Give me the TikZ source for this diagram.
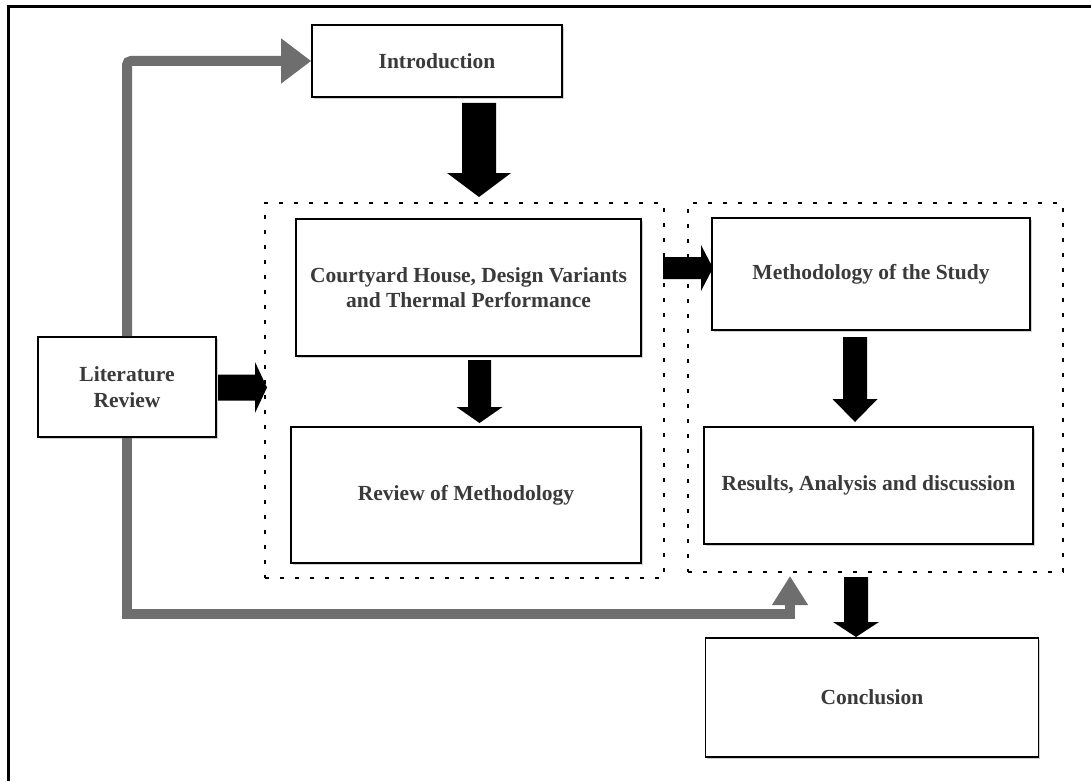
\documentclass[tikz,border=0pt]{standalone}
\usepackage{fontspec}
\setmainfont{Liberation Serif}
\usetikzlibrary{arrows.meta,shadows}
\definecolor{txt}{HTML}{3A3A3A}
\definecolor{garr}{HTML}{6E6E6E}
% block arrow pointing down: centre x, top, head base, tip, shaft half width, head half width
\newcommand\blkdown[6]{\fill (#1-#5,#2) -- (#1+#5,#2) -- (#1+#5,#3) -- (#1+#6,#3) -- (#1,#4) -- (#1-#6,#3) -- (#1-#5,#3) -- cycle;}
% block arrow pointing right: centre y, left, head base, tip, shaft half width, head half width
\newcommand\blkright[6]{\fill (#2,#1-#5) -- (#3,#1-#5) -- (#3,#1-#6) -- (#4,#1) -- (#3,#1+#6) -- (#3,#1+#5) -- (#2,#1+#5) -- cycle;}
\begin{document}
\begin{tikzpicture}[x=1pt,y=-1pt,
  box/.style={draw, line width=1.6pt, fill=white, inner sep=0pt, align=center,
    text=txt, font=\bfseries\fontsize{21.5}{25.5}\selectfont,
    drop shadow={shadow xshift=1.8pt, shadow yshift=-1.8pt, fill=black!30, opacity=0.6}},
  dotbox/.style={draw, line width=2pt, dash pattern=on 4pt off 11pt, inner sep=0pt},
  garrow/.style={draw=garr, line width=10pt},
  blk/.style={fill=black}]
\useasboundingbox (0,0) rectangle (1091,781);
\fill[white] (0,0) rectangle (1091,781);
% outer frame
\draw[line width=3pt] (8,781) -- (8,7) -- (1091,7);
% dotted groups
\node[dotbox, minimum width=399pt, minimum height=375pt] (gleft) at (464.5,390.5) {};
\node[dotbox, minimum width=375pt, minimum height=369pt] (gright) at (875.5,387.5) {};
% boxes
\node[box, minimum width=250pt, minimum height=72pt] (intro) at (437,61) {Introduction};
\node[box, minimum width=345pt, minimum height=137pt] (court) at (468.5,287.5) {Courtyard House, Design Variants\\and Thermal Performance};
\node[box, minimum width=350pt, minimum height=136pt] (review) at (466,495) {Review of Methodology};
\node[box, minimum width=318pt, minimum height=112pt] (method) at (871,274) {Methodology of the Study};
\node[box, minimum width=329pt, minimum height=117pt] (results) at (868.5,485.5) {Results, Analysis and discussion};
\node[box, minimum width=333pt, minimum height=119pt] (concl) at (872,697.5) {Conclusion};
\node[box, minimum width=178pt, minimum height=100pt] (lit) at (127,387) {Literature\\Review};
% gray arrows
\draw[garrow, rounded corners=4pt, -{Triangle[length=30pt,width=43pt]}] (lit.north) |- (intro.west);
\coordinate (gturn) at (790,614);
\coordinate (gtip) at (790,576);
\draw[garrow, -{Triangle[length=29pt,width=34pt]}] (lit.south) |- (gturn) -- (gtip);
% block arrows
\blkdown{479}{103}{173}{197}{17}{32}
\blkdown{479.5}{360}{407}{423}{11.5}{23}
\blkdown{855}{337}{399}{422}{12}{22.5}
\blkdown{856}{577}{622}{637}{12}{23}
\blkright{387.5}{218}{255}{267}{13}{25.5}
\blkright{268}{663}{701}{713}{11}{23}
\end{tikzpicture}
\end{document}
